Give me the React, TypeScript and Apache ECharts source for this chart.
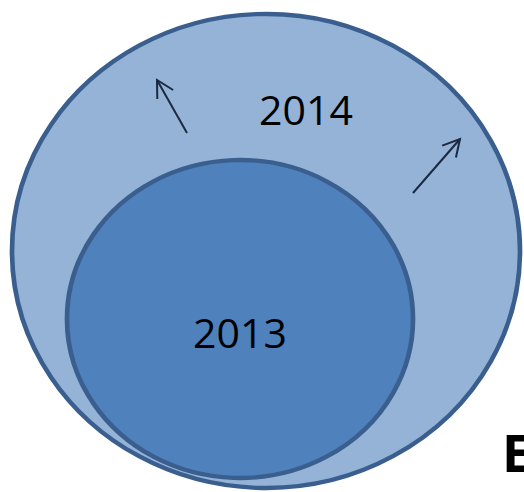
import React, { useEffect, useRef } from "react";
import * as echarts from "echarts";

// Data
const years = ["2014", "2013"];
const centersX = [266, 240];
const centersY = [251, 319];
const widths = [508, 346];
const heights = [474, 318];
const fills = ["#95B3D7", "#4F81BD"];
const labelOffsets = [[40, -142], [0, 13]];

// growth arrows: [tailX, tailY, tipX, tipY]
const arrowTails = [[187, 133], [413, 193]];
const arrowTips = [[157, 80], [460, 139]];

const cornerLabel = "E";

export default function App() {
  const ref = useRef<HTMLDivElement>(null);
  useEffect(() => {
    const chart = echarts.init(ref.current!, undefined, { renderer: "svg" });
    const ellipseData = years.map((y, i) => ({
      name: y,
      value: [centersX[i], centersY[i]],
      symbolSize: [widths[i], heights[i]],
      itemStyle: { color: fills[i] },
      label: { offset: labelOffsets[i] },
    }));
    const arrowData = arrowTails.map((t, i) => [t[0], t[1], arrowTips[i][0], arrowTips[i][1]]);
    chart.setOption({
      animation: false,
      grid: { left: 0, right: 0, top: 0, bottom: 0 },
      xAxis: { type: "value", min: 0, max: 524, show: false },
      yAxis: { type: "value", min: 0, max: 492, inverse: true, show: false },
      series: [
        {
          type: "scatter",
          symbol: "circle",
          data: ellipseData,
          itemStyle: { borderColor: "#3A5F8F", borderWidth: 4.5, opacity: 1 },
          label: {
            show: true,
            position: "inside",
            formatter: "{b}",
            color: "#000",
            fontSize: 41,
            fontFamily: "Open Sans",
          },
          emphasis: { disabled: true },
          z: 2,
        },
        {
          type: "custom",
          coordinateSystem: "cartesian2d",
          data: arrowData,
          z: 3,
          renderItem: (params: any, api: any) => {
            const a = api.coord([api.value(0), api.value(1)]);
            const b = api.coord([api.value(2), api.value(3)]);
            const dx = b[0] - a[0];
            const dy = b[1] - a[1];
            const len = Math.sqrt(dx * dx + dy * dy);
            const ux = dx / len;
            const uy = dy / len;
            const hl = 19;
            const ang = 0.5;
            const c = Math.cos(ang);
            const s = Math.sin(ang);
            const h1 = [b[0] - hl * (ux * c - uy * s), b[1] - hl * (uy * c + ux * s)];
            const h2 = [b[0] - hl * (ux * c + uy * s), b[1] - hl * (uy * c - ux * s)];
            const style = { stroke: "#1B2A41", lineWidth: 2, fill: null };
            return {
              type: "group",
              children: [
                { type: "line", shape: { x1: a[0], y1: a[1], x2: b[0], y2: b[1] }, style },
                { type: "polyline", shape: { points: [h1, b, h2] }, style },
              ],
            };
          },
        },
      ],
      graphic: [
        {
          type: "text",
          left: 502,
          top: 425,
          style: {
            text: cornerLabel,
            font: "bold 52px 'Open Sans'",
            fill: "#000",
          },
        },
      ],
    });
    return () => chart.dispose();
  }, []);
  return (
    <div
      ref={ref}
      style={{ position: "fixed", left: 0, top: 0, width: 524, height: 492, background: "#fff" }}
    />
  );
}
